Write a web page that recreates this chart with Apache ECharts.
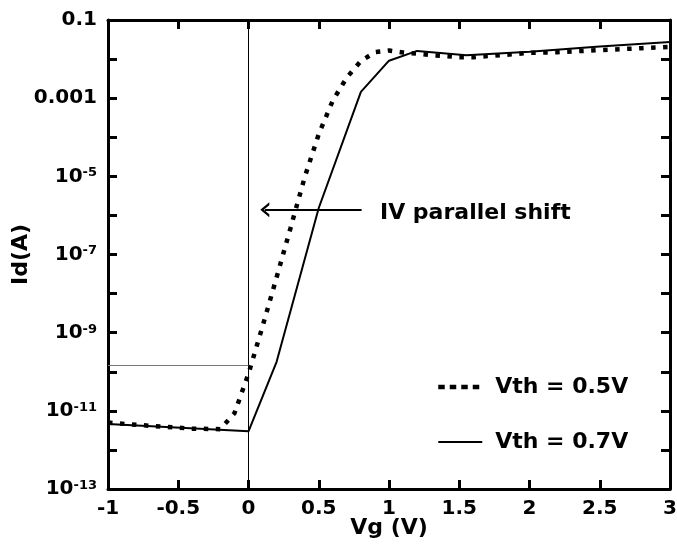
<!DOCTYPE html>
<html>
<head>
<meta charset="utf-8">
<script src="https://cdn.jsdelivr.net/npm/echarts@6/dist/echarts.min.js"></script>
<style>
  html, body { margin: 0; padding: 0; background: #fff; }
  #chart { width: 677px; height: 560px; }
</style>
</head>
<body>
<div id="chart"></div>
<script>
// Vth = 0.5V (dotted curve)
const vg05 = [-1, -0.8, -0.6, -0.4, -0.2, -0.1, 0, 0.1, 0.2, 0.3, 0.4, 0.5, 0.6, 0.7, 0.8, 0.9,
  1.0, 1.1, 1.2, 1.3, 1.4, 1.5, 1.6, 1.8, 2.0, 2.2, 2.5, 2.8, 3.0];
const id05 = [5.0e-12, 4.4e-12, 3.9e-12, 3.5e-12, 3.4e-12, 8.7e-12, 8.9e-11, 1.45e-9, 2.6e-8, 4.9e-7,
  9.5e-6, 1.2e-4, 8.7e-4, 3.4e-3, 8.9e-3, 1.5e-2, 1.66e-2, 1.48e-2, 1.38e-2, 1.26e-2, 1.2e-2,
  1.12e-2, 1.12e-2, 1.26e-2, 1.45e-2, 1.5e-2, 1.7e-2, 1.9e-2, 2.04e-2];

// Vth = 0.7V (solid curve)
const vg07 = [-1, 0, 0.2, 0.5, 0.8, 1.0, 1.2, 1.55, 2.0, 2.5, 3.0];
const id07 = [4.6e-12, 3.0e-12, 1.8e-10, 1.55e-6, 1.45e-3, 9.1e-3, 1.62e-2, 1.26e-2, 1.55e-2, 2.1e-2, 2.75e-2];

// reference lines and annotation arrow
const refVg = 0;
const refId = 1.5e-10;
const arrowFrom = [0.805, 1.4e-6];
const arrowTo = [0.116, 1.4e-6];

const FONT = "DejaVu Sans";

const chart = echarts.init(document.getElementById("chart"));

function yLabel(v) {
  const e = Math.round(Math.log10(v));
  if (e % 2 === 0) return "";
  if (e === -1) return "0.1";
  if (e === -3) return "0.001";
  return "{b|10}{s|" + e + "}";
}

const tickStyle = { show: true, inside: true, length: 9, lineStyle: { color: "#000", width: 3 } };
const lineAx = { show: true, onZero: false, lineStyle: { color: "#000", width: 3 } };

const option = {
  animation: false,
  backgroundColor: "#fff",
  grid: { left: 108, right: 7, top: 20, bottom: 71, outerBoundsMode: "none", containLabel: false },
  legend: {
    orient: "vertical",
    left: 436,
    top: 376,
    padding: 0,
    itemWidth: 44,
    itemHeight: 14,
    itemGap: 33,
    selectedMode: false,
    itemStyle: { color: "rgba(0,0,0,0)", borderWidth: 0 },
    textStyle: { fontFamily: FONT, fontWeight: "bold", fontSize: 22, color: "#000", padding: [0, 0, 0, 8] },
    data: [
      { name: "Vth = 0.5V", lineStyle: { color: "#000", width: 4.5, type: [6.5, 5], cap: "butt" } },
      { name: "Vth = 0.7V", lineStyle: { color: "#000", width: 2, type: "solid" } }
    ]
  },
  xAxis: [
    {
      type: "value", min: -1, max: 3, interval: 0.5,
      name: "Vg (V)", nameLocation: "middle", nameGap: 28, nameMoveOverlap: false,
      nameTextStyle: { fontFamily: FONT, fontWeight: "bold", fontSize: 22, color: "#000" },
      axisLine: lineAx, axisTick: tickStyle, splitLine: { show: false },
      axisLabel: { fontFamily: FONT, fontWeight: "bold", fontSize: 20, color: "#000", margin: 10 }
    },
    {
      type: "value", position: "top", min: -1, max: 3, interval: 0.5,
      axisLine: lineAx, axisTick: tickStyle, splitLine: { show: false },
      axisLabel: { show: false }
    }
  ],
  yAxis: [
    {
      type: "log", logBase: 10, min: 1e-13, max: 0.1, interval: 1,
      name: "Id(A)", nameLocation: "middle", nameGap: 76, nameMoveOverlap: false,
      nameTextStyle: { fontFamily: FONT, fontWeight: "bold", fontSize: 22, color: "#000" },
      axisLine: lineAx, axisTick: tickStyle, splitLine: { show: false }, minorTick: { show: false },
      axisLabel: {
        fontFamily: FONT, fontWeight: "bold", fontSize: 20, color: "#000", margin: 11,
        formatter: yLabel,
        rich: {
          b: { fontFamily: FONT, fontWeight: "bold", fontSize: 20, color: "#000" },
          s: { fontFamily: FONT, fontWeight: "bold", fontSize: 13, color: "#000", verticalAlign: "top", lineHeight: 13 }
        }
      }
    },
    {
      type: "log", logBase: 10, position: "right", min: 1e-13, max: 0.1, interval: 1,
      axisLine: lineAx, axisTick: tickStyle, splitLine: { show: false }, minorTick: { show: false },
      axisLabel: { show: false }
    }
  ],
  series: [
    {
      name: "Vth = 0.5V",
      type: "line",
      symbol: "none",
      data: vg05.map((v, i) => [v, id05[i]]),
      lineStyle: { color: "#000", width: 4.5, type: [4.5, 7.5], cap: "butt" },
      itemStyle: { color: "#000" },
      z: 3
    },
    {
      name: "Vth = 0.7V",
      type: "line",
      symbol: "none",
      data: vg07.map((v, i) => [v, id07[i]]),
      lineStyle: { color: "#000", width: 2 },
      itemStyle: { color: "#000" },
      z: 2,
      markLine: {
        silent: true,
        animation: false,
        label: { show: false },
        emphasis: { disabled: true },
        data: [
          [{ coord: [refVg, 1e-13], symbol: "none", lineStyle: { color: "#000", width: 1, type: "solid" } },
           { coord: [refVg, 0.1], symbol: "none" }],
          [{ coord: [-1, refId], symbol: "none", lineStyle: { color: "#777", width: 1, type: "solid" } },
           { coord: [refVg, refId], symbol: "none" }],
          [{ coord: arrowTo, symbol: "path://M0,10 L5,0 L10,10 L8,10 L5,3.8 L2,10 Z", symbolSize: [15, 9],
             lineStyle: { color: "#000", width: 2, type: "solid" } },
           { coord: arrowFrom, symbol: "none" }]
        ]
      }
    }
  ],
  graphic: [
    {
      type: "text",
      left: 380,
      top: 202,
      style: { text: "IV parallel shift", fontFamily: FONT, fontWeight: "bold", fontSize: 22, fill: "#000" }
    }
  ]
};

chart.setOption(option);
</script>
</body>
</html>
